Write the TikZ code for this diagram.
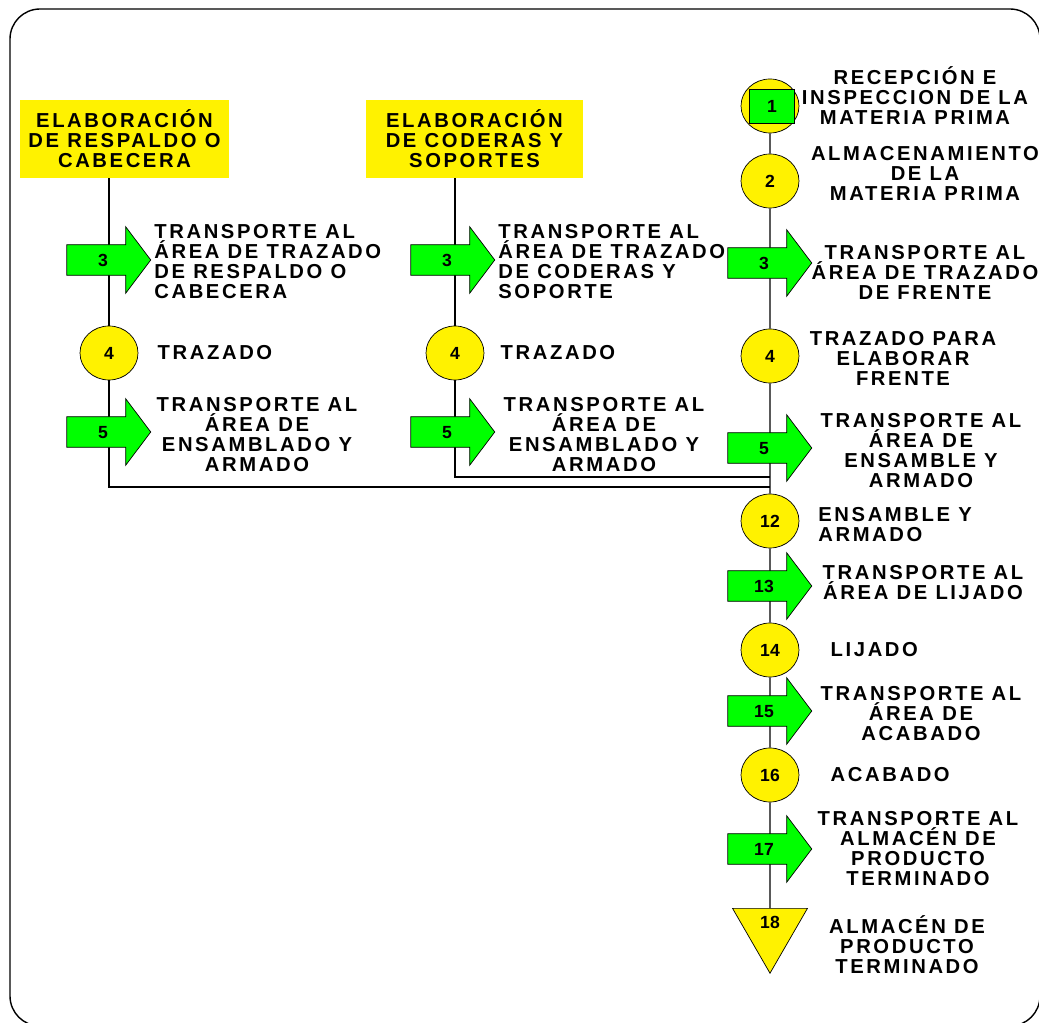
\documentclass[tikz,border=0pt]{standalone}
\usepackage{fontspec}
\newfontfamily\lblfont{Liberation Sans}[LetterSpace=13]
\newfontfamily\numfont{Liberation Sans}
\usetikzlibrary{shapes.geometric,shapes.arrows,positioning,calc}
\def\ArrowLen{1.68cm}
\def\OpWidth{1.16cm}
\def\OpHeight{1.08cm}

\begin{document}
\begin{tikzpicture}[x=0.02cm,y=-0.02cm,
		txt/.style={font=\lblfont\bfseries\fontsize{11.5}{11.4}\selectfont,inner sep=0pt},
		num/.style={font=\numfont\bfseries\fontsize{10}{10}\selectfont},
		oper/.style={ellipse,draw,fill=yellow,minimum width=\OpWidth,minimum height=\OpHeight,inner sep=0pt,num},
		transp/.style={single arrow,draw,fill=green,minimum height=\ArrowLen,single arrow head extend=0.36cm,single arrow tip angle=106,text height=7pt,text depth=0pt,inner xsep=2pt,inner ysep=5pt,num},
		startbox/.style={rectangle,fill=yellow,minimum height=1.56cm,align=center,txt},
		store/.style={regular polygon,regular polygon sides=3,shape border rotate=180,draw,fill=yellow,minimum size=1.73cm,inner sep=0pt,text height=7pt,text depth=9pt,num},
		flow/.style={line width=0.8pt}]
	\useasboundingbox (0,0) rectangle (1039,1023);
	\draw[line width=0.8pt,rounded corners=0.6cm] (10,9) rectangle (1040,1026);
	% 
	\node[startbox,minimum width=4.18cm] (b1) at (124.5,139) {ELABORACIÓN\\DE RESPALDO O\\CABECERA};
	\node[startbox,minimum width=4.34cm] (b2) at (474.5,139) {ELABORACIÓN\\DE CODERAS Y\\SOPORTES};
	% 
	\node[oper] (c4L) at (109,353) {4};
	\node[oper] (c4M) at (455,353) {4};
	% 
	\node[oper] (c1) at (770,106) {};
	\node[rectangle,draw,fill=green,minimum width=0.9cm,minimum height=0.68cm,inner sep=0pt,num] (q1) at (772,106) {1};
	\node[oper] (c2) at (770,181) {2};
	\node[oper] (c4) at (770,356) {4};
	\node[oper] (c12) at (770,521) {12};
	\node[oper] (c14) at (770,650) {14};
	\node[oper] (c16) at (770,775) {16};
	\node[store] (s18) at (770,930) {18};
	\coordinate (j1) at (770,487);
	\coordinate (j2) at (770,477);
	% 
	\draw[flow] (b1.south -| c4L) -- (c4L) -- (c4L |- j1) -- (j1);
	\draw[flow] (b2.south -| c4M) -- (c4M) -- (c4M |- j2) -- (j2);
	\draw[flow] (c1) -- (c2) -- (c4) -- (c12) -- (c14) -- (c16) -- (s18);
	% 
	\node[transp] (a3L) at (103,260) {3};
	\node[transp] (a5L) at (103,432) {5};
	\node[transp] (a3M) at (447,260) {3};
	\node[transp] (a5M) at (447,432) {5};
	\node[transp] (a3) at (764,263) {3};
	\node[transp] (a5) at (764,448) {5};
	\node[transp] (a13) at (764,586) {13};
	\node[transp] (a15) at (764,711) {15};
	\node[transp] (a17) at (764,849) {17};
	% 
	\node[txt,align=left,anchor=west] (l3L) at (154,262) {TRANSPORTE AL\\ÁREA DE TRAZADO\\DE RESPALDO O\\CABECERA};
	\node[txt,right=0.38cm of c4L] (l4L) {TRAZADO};
	\node[txt,align=center] (l5L) at (257,435) {TRANSPORTE AL\\ÁREA DE\\ENSAMBLADO Y\\ARMADO};
	\node[txt,align=left,anchor=west] (l3M) at (498,262) {TRANSPORTE AL\\ÁREA DE TRAZADO\\DE CODERAS Y\\SOPORTE};
	\node[txt,right=0.32cm of c4M] (l4M) {TRAZADO};
	\node[txt,align=center] (l5M) at (604,435) {TRANSPORTE AL\\ÁREA DE\\ENSAMBLADO Y\\ARMADO};
	% 
	\node[txt,align=center] (l1) at (915,96) {RECEPCIÓN E\\INSPECCION DE LA\\MATERIA PRIMA};
	\node[txt,align=center] (l2) at (925,173) {ALMACENAMIENTO\\DE LA\\MATERIA PRIMA};
	\node[txt,align=center] (l3) at (925,272) {TRANSPORTE AL\\ÁREA DE TRAZADO\\DE FRENTE};
	\node[txt,align=center] (l4) at (903,358) {TRAZADO PARA\\ELABORAR\\FRENTE};
	\node[txt,align=center] (l5) at (921,451) {TRANSPORTE AL\\ÁREA DE\\ENSAMBLE Y\\ARMADO};
	\node[txt,align=left,anchor=west] (l12) at (818,525) {ENSAMBLE Y\\ARMADO};
	\node[txt,align=center] (l13) at (923,583) {TRANSPORTE AL\\ÁREA DE LIJADO};
	\node[txt,right=0.62cm of c14] (l14) {LIJADO};
	\node[txt,align=center] (l15) at (921,714) {TRANSPORTE AL\\ÁREA DE\\ACABADO};
	\node[txt,right=0.62cm of c16] (l16) {ACABADO};
	\node[txt,align=center] (l17) at (918,849) {TRANSPORTE AL\\ALMACÉN DE\\PRODUCTO\\TERMINADO};
	\node[txt,align=center] (l18) at (907,945) {ALMACÉN DE\\PRODUCTO\\TERMINADO};
\end{tikzpicture}
\end{document}
